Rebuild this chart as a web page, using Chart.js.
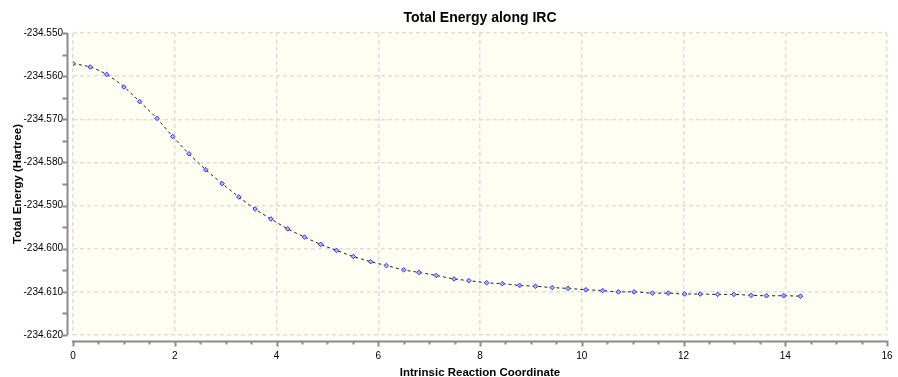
<!DOCTYPE html>
<html>
<head>
<meta charset="utf-8">
<title>Total Energy along IRC</title>
<script src="https://cdn.jsdelivr.net/npm/chart.js@4"></script>
<style>
  html, body { margin: 0; padding: 0; background: #ffffff; }
  #ircChart { display: block; }
</style>
</head>
<body>
<canvas id="ircChart" width="898" height="377"></canvas>
<script>
// ===== Data =====
const ircCoord = [
  0, 0.34, 0.66, 1.0, 1.31, 1.65, 1.96, 2.28, 2.61, 2.93,
  3.26, 3.58, 3.89, 4.22, 4.55, 4.87, 5.18, 5.51, 5.85, 6.16,
  6.50, 6.80, 7.14, 7.49, 7.78, 8.13, 8.44, 8.78, 9.09, 9.42,
  9.73, 10.08, 10.41, 10.72, 11.03, 11.39, 11.70, 12.02, 12.33, 12.67,
  12.99, 13.33, 13.63, 13.97, 14.30
];
const totalEnergy = [
  -234.5571, -234.5579, -234.5596, -234.5625, -234.5659, -234.5698, -234.5740, -234.5780, -234.5817, -234.5849,
  -234.5880, -234.5908, -234.5931, -234.5954, -234.5973, -234.5990, -234.6004, -234.6018, -234.6030, -234.6039,
  -234.6049, -234.6055, -234.6062, -234.6070, -234.6074, -234.6079, -234.6081, -234.6085, -234.6087, -234.6090,
  -234.6092, -234.6095, -234.6097, -234.6100, -234.6100, -234.6103, -234.6103, -234.6105, -234.6105, -234.6106,
  -234.6106, -234.6108, -234.6109, -234.6109, -234.6110
];
const xRange = [0, 16];
const yRange = [-234.62, -234.55];
const xStep = 2;
const yStep = 0.01;

const FONT = "'Liberation Sans', Arial, Helvetica, sans-serif";
const AXIS_COLOR = "#8a8a8a";

// ===== Plot background + offset axes (drawn from the scales) =====
const plotFrame = {
  id: "plotFrame",
  beforeDraw(chart) {
    const { ctx, chartArea: a } = chart;
    ctx.save();
    ctx.fillStyle = "#ffffff";
    ctx.fillRect(0, 0, chart.width, chart.height);
    ctx.fillStyle = "#fefef3";
    ctx.fillRect(a.left - 2, a.top - 3, a.right - a.left + 4, a.bottom - a.top + 5);
    ctx.restore();
  },
  afterDraw(chart) {
    const { ctx, chartArea: a } = chart;
    const xs = chart.scales.x;
    const ys = chart.scales.y;
    const axisX = a.left - 5.5;
    const axisY = a.bottom + 6.5;

    ctx.save();
    ctx.strokeStyle = AXIS_COLOR;
    ctx.lineWidth = 2;

    // y axis line + ticks (every half step)
    ctx.beginPath();
    ctx.moveTo(axisX, a.top);
    ctx.lineTo(axisX, a.bottom);
    for (let v = yRange[0]; v <= yRange[1] + 1e-9; v += yStep / 2) {
      const py = Math.round(ys.getPixelForValue(v)) + 0.5;
      ctx.moveTo(axisX - 5, py);
      ctx.lineTo(axisX, py);
    }
    ctx.stroke();

    // x axis line + major/minor ticks
    ctx.beginPath();
    ctx.moveTo(a.left - 1, axisY);
    ctx.lineTo(a.right + 1, axisY);
    for (let i = 0; i <= (xRange[1] - xRange[0]) * 2; i++) {
      const v = xRange[0] + i * 0.5;
      const px = Math.round(xs.getPixelForValue(v)) + 0.5;
      const len = (i % 4 === 0) ? 5 : 3;
      ctx.moveTo(px, axisY - 1);
      ctx.lineTo(px, axisY + len);
    }
    ctx.stroke();
    ctx.restore();
  }
};

document.addEventListener("DOMContentLoaded", () => {
  const ctx = document.getElementById("ircChart").getContext("2d");

  new Chart(ctx, {
    type: "line",
    data: {
      datasets: [{
        label: "Total Energy",
        data: ircCoord.map((x, i) => ({ x: x, y: totalEnergy[i] })),
        borderColor: "#222222",
        borderWidth: 1,
        borderDash: [3, 3],
        cubicInterpolationMode: "monotone",
        pointStyle: "rectRot",
        pointRadius: 2.3,
        pointBackgroundColor: "#b4b4ff",
        pointBorderColor: "#3030ff",
        pointBorderWidth: 1,
        fill: false
      }]
    },
    options: {
      responsive: false,
      animation: false,
      devicePixelRatio: 1,
      layout: { padding: { left: 0, right: 11, top: 0, bottom: 0 } },
      plugins: {
        legend: { display: false },
        tooltip: { enabled: false },
        title: {
          display: true,
          text: "Total Energy along IRC",
          fullSize: false,
          color: "#000000",
          font: { family: FONT, size: 14, weight: "bold" },
          padding: { top: 10, bottom: 6.2 }
        }
      },
      scales: {
        x: {
          type: "linear",
          min: xRange[0],
          max: xRange[1],
          afterFit(scale) { scale.height = 42; },
          border: { display: false, dash: [4, 3] },
          // tick marks are drawn by plotFrame; tickLength only pushes labels down
          grid: { color: "#dedede", lineWidth: 1.5, drawTicks: true, tickLength: 12, tickColor: "rgba(0,0,0,0)" },
          ticks: {
            stepSize: xStep,
            padding: 3,
            color: "#000000",
            font: { family: FONT, size: 10 }
          },
          title: {
            display: true,
            text: "Intrinsic Reaction Coordinate",
            color: "#000000",
            font: { family: FONT, size: 11.5, weight: "bold" },
            padding: { top: 0, bottom: -3 }
          }
        },
        y: {
          type: "linear",
          min: yRange[0],
          max: yRange[1],
          afterFit(scale) { scale.width = 73; },
          border: { display: false, dash: [4, 3] },
          grid: { color: "#dedede", lineWidth: 1.5, drawTicks: false },
          ticks: {
            stepSize: yStep,
            padding: 10,
            color: "#000000",
            font: { family: FONT, size: 10 },
            callback: (v) => Number(v).toFixed(3)
          },
          title: {
            display: true,
            text: "Total Energy (Hartree)",
            color: "#000000",
            font: { family: FONT, size: 11.5, weight: "bold" },
            padding: { top: 11, bottom: 0 }
          }
        }
      }
    },
    plugins: [plotFrame]
  });
});
</script>
</body>
</html>
